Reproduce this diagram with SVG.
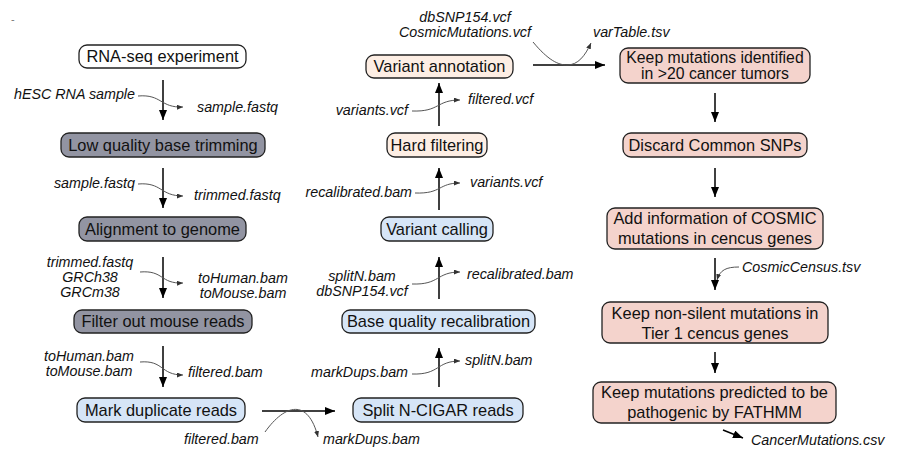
<svg xmlns="http://www.w3.org/2000/svg" width="898" height="452" viewBox="0 0 898 452">
<defs>
<marker id="ah" markerUnits="userSpaceOnUse" markerWidth="10" markerHeight="8" refX="10" refY="4" orient="auto"><path d="M0,0 L10,4 L0,8 z" fill="#000"/></marker>
<marker id="sh" markerUnits="userSpaceOnUse" markerWidth="6" markerHeight="5" refX="6" refY="2.5" orient="auto"><path d="M0,0 L6,2.5 L0,5 z" fill="#333"/></marker>
<style>
.box{stroke:#222;stroke-width:1.3}
.w{fill:#fff}.g{fill:#9294a2}.b{fill:#d6e5f7}.p{fill:#fdeee4}.r{fill:#f4d3cc}
.t{font-family:"Liberation Sans",Arial,sans-serif;font-size:16.4px;fill:#111;text-anchor:middle}
.t2{font-family:"Liberation Sans",Arial,sans-serif;font-size:15.8px;fill:#111;text-anchor:middle}
.l{font-family:"Liberation Sans",Arial,sans-serif;font-size:14.3px;font-style:italic;fill:#111}
.e{text-anchor:end}.m{text-anchor:middle}
.a{stroke:#000;stroke-width:1.5;fill:none;marker-end:url(#ah)}
.c{stroke:#555;stroke-width:1;fill:none;marker-end:url(#sh)}
</style>
</defs>
<text x="11" y="23" font-family="Liberation Sans,sans-serif" font-size="11" fill="#777">-</text>
<g id="n1"><rect class="box w" x="79" y="45" width="167" height="23" rx="8"/><text class="t" x="162.5" y="62">RNA-seq experiment</text></g>
<g id="n2"><rect class="box g" x="61" y="133" width="204" height="24" rx="8"/><text class="t" x="163" y="151">Low quality base trimming</text></g>
<g id="n3"><rect class="box g" x="79" y="217" width="167" height="24" rx="8"/><text class="t" x="162.5" y="235">Alignment to genome</text></g>
<g id="n4"><rect class="box g" x="74" y="310" width="178" height="23" rx="8"/><text class="t" x="163" y="327">Filter out mouse reads</text></g>
<g id="n5"><rect class="box b" x="77" y="398" width="168" height="24" rx="8"/><text class="t" x="161" y="416">Mark duplicate reads</text></g>
<g id="n6"><rect class="box b" x="353" y="398" width="170" height="24" rx="8"/><text class="t" x="438" y="416">Split N-CIGAR reads</text></g>
<g id="n7"><rect class="box b" x="342" y="310" width="193" height="23" rx="8"/><text class="t" x="438.5" y="327">Base quality recalibration</text></g>
<g id="n8"><rect class="box b" x="381" y="217" width="112" height="24" rx="8"/><text class="t" x="437" y="235">Variant calling</text></g>
<g id="n9"><rect class="box p" x="387" y="133" width="100" height="24" rx="8"/><text class="t" x="437" y="151">Hard filtering</text></g>
<g id="n10"><rect class="box p" x="366" y="55" width="147" height="23" rx="8"/><text class="t" x="439.5" y="72">Variant annotation</text></g>
<g id="n11"><rect class="box r" x="620" y="48" width="190" height="35" rx="8"/><text class="t2" x="715" y="62.5">Keep mutations identified</text><text class="t2" x="715" y="78.5">in &gt;20 cancer tumors</text></g>
<g id="n12"><rect class="box r" x="623" y="133" width="184" height="24" rx="8"/><text class="t" x="715" y="151">Discard Common SNPs</text></g>
<g id="n13"><rect class="box r" x="607" y="208" width="216" height="41" rx="8"/><text class="t" x="715" y="224">Add information of COSMIC</text><text class="t" x="715" y="244">mutations in cencus genes</text></g>
<g id="n14"><rect class="box r" x="602" y="302" width="226" height="41" rx="8"/><text class="t" x="715" y="318.5">Keep non-silent mutations in</text><text class="t" x="715" y="338.5">Tier 1 cencus genes</text></g>
<g id="n15"><rect class="box r" x="593" y="382" width="243" height="41" rx="8"/><text class="t" x="714.5" y="397.5">Keep mutations predicted to be</text><text class="t" x="714.5" y="417.5">pathogenic by FATHMM</text></g>
<g id="connectors">
<path class="a" d="M163,80 V120"/>
<path class="a" d="M163,168 V208"/>
<path class="a" d="M163,257 V298"/>
<path class="a" d="M163,346 V387"/>
<path class="a" d="M439,387 V348"/>
<path class="a" d="M439,299 V257"/>
<path class="a" d="M439,210 V168"/>
<path class="a" d="M439,126 V83"/>
<path class="a" d="M715,93 V122"/>
<path class="a" d="M715,168 V197"/>
<path class="a" d="M715,258 V290"/>
<path class="a" d="M715,352 V373"/>
<path class="a" d="M262,411 H335"/>
<path class="a" d="M533,65 H605"/>
<path class="a" d="M723,430 L743,438"/>
<path class="c" d="M138,96 C162,94 160,108 183,107"/>
<path class="c" d="M138,184 C162,182 160,196 183,196"/>
<path class="c" d="M140,272 C164,270 160,284 183,283"/>
<path class="c" d="M140,362 C164,360 160,375 183,375"/>
<path class="c" d="M265,432 C285,404 308,398 318,437"/>
<path class="c" d="M412,374 C440,375 436,361 460,361"/>
<path class="c" d="M412,284 C440,285 436,272 460,272"/>
<path class="c" d="M415,193 C442,194 438,183 460,183"/>
<path class="c" d="M412,111 C440,112 436,100 460,100"/>
<path class="c" d="M533,42 C548,60 558,65 567,65 C578,65 585,56 591,43"/>
<path class="c" d="M739,267 C726,267 720,270 717,280"/>
</g>
<g id="labels">
<text class="l e" x="135" y="99">hESC RNA sample</text>
<text class="l" x="197" y="112">sample.fastq</text>
<text class="l e" x="135" y="188">sample.fastq</text>
<text class="l" x="194" y="200">trimmed.fastq</text>
<text class="l m" x="90" y="267">trimmed.fastq</text>
<text class="l m" x="90" y="282">GRCh38</text>
<text class="l m" x="90" y="297">GRCm38</text>
<text class="l m" x="243" y="283">toHuman.bam</text>
<text class="l m" x="243" y="298">toMouse.bam</text>
<text class="l m" x="89" y="361">toHuman.bam</text>
<text class="l m" x="89" y="376">toMouse.bam</text>
<text class="l" x="188" y="377">filtered.bam</text>
<text class="l" x="184" y="444">filtered.bam</text>
<text class="l" x="323" y="444">markDups.bam</text>
<text class="l e" x="408" y="377">markDups.bam</text>
<text class="l" x="465" y="365">splitN.bam</text>
<text class="l m" x="362" y="280.5">splitN.bam</text>
<text class="l m" x="362" y="295.5">dbSNP154.vcf</text>
<text class="l" x="467" y="279">recalibrated.bam</text>
<text class="l e" x="412" y="197">recalibrated.bam</text>
<text class="l" x="470" y="187">variants.vcf</text>
<text class="l e" x="408" y="115">variants.vcf</text>
<text class="l" x="468" y="104">filtered.vcf</text>
<text class="l m" x="465" y="22">dbSNP154.vcf</text>
<text class="l m" x="465" y="37">CosmicMutations.vcf</text>
<text class="l" x="593" y="37">varTable.tsv</text>
<text class="l" x="742" y="272">CosmicCensus.tsv</text>
<text class="l" x="751" y="445">CancerMutations.csv</text>
</g>
</svg>
